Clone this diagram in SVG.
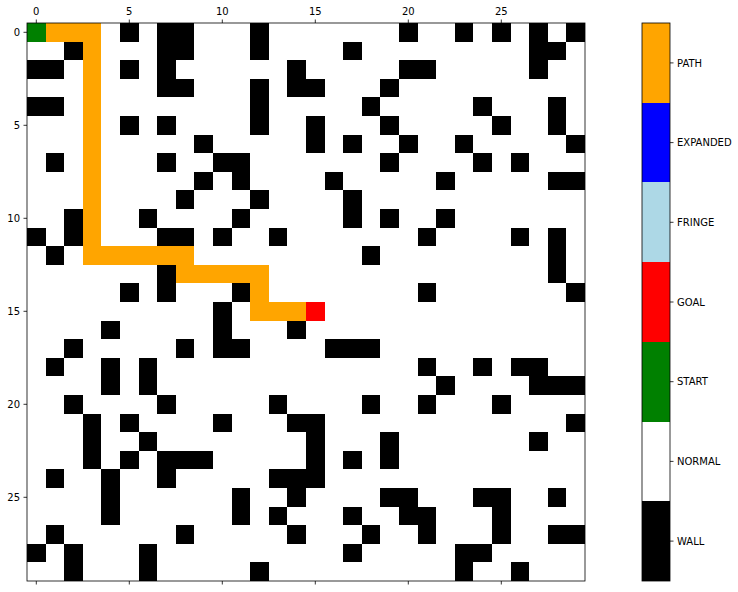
<svg xmlns="http://www.w3.org/2000/svg" width="738" height="592" viewBox="0 0 738 592">
<style>
.w{fill:#000000}
.p{fill:#FFA500}
.cells rect{shape-rendering:crispEdges}
.t{font-family:"DejaVu Sans",sans-serif;font-size:10px;fill:#000}
.tk{stroke:#000;stroke-width:0.8;fill:none}
</style>
<rect x="0" y="0" width="738" height="592" fill="#fff"/>
<g id="grid" class="cells" transform="translate(27 23) scale(18.6)">
<rect x="0" y="0" width="30" height="30" fill="#fff"/>
<!-- walls -->
<g class="w">
<rect x="5" y="0" width="1" height="1"/><rect x="7" y="0" width="2" height="1"/><rect x="12" y="0" width="1" height="1"/><rect x="20" y="0" width="1" height="1"/><rect x="23" y="0" width="1" height="1"/><rect x="25" y="0" width="1" height="1"/><rect x="27" y="0" width="1" height="1"/><rect x="29" y="0" width="1" height="1"/>
<rect x="2" y="1" width="1" height="1"/><rect x="7" y="1" width="2" height="1"/><rect x="12" y="1" width="1" height="1"/><rect x="17" y="1" width="1" height="1"/><rect x="27" y="1" width="2" height="1"/>
<rect x="0" y="2" width="2" height="1"/><rect x="5" y="2" width="1" height="1"/><rect x="7" y="2" width="1" height="1"/><rect x="14" y="2" width="1" height="1"/><rect x="20" y="2" width="2" height="1"/><rect x="27" y="2" width="1" height="1"/>
<rect x="7" y="3" width="2" height="1"/><rect x="12" y="3" width="1" height="1"/><rect x="14" y="3" width="2" height="1"/><rect x="19" y="3" width="1" height="1"/>
<rect x="0" y="4" width="2" height="1"/><rect x="12" y="4" width="1" height="1"/><rect x="18" y="4" width="1" height="1"/><rect x="24" y="4" width="1" height="1"/><rect x="28" y="4" width="1" height="1"/>
<rect x="5" y="5" width="1" height="1"/><rect x="7" y="5" width="1" height="1"/><rect x="12" y="5" width="1" height="1"/><rect x="15" y="5" width="1" height="1"/><rect x="19" y="5" width="1" height="1"/><rect x="25" y="5" width="1" height="1"/><rect x="28" y="5" width="1" height="1"/>
<rect x="9" y="6" width="1" height="1"/><rect x="15" y="6" width="1" height="1"/><rect x="17" y="6" width="1" height="1"/><rect x="20" y="6" width="1" height="1"/><rect x="23" y="6" width="1" height="1"/><rect x="29" y="6" width="1" height="1"/>
<rect x="1" y="7" width="1" height="1"/><rect x="7" y="7" width="1" height="1"/><rect x="10" y="7" width="2" height="1"/><rect x="19" y="7" width="1" height="1"/><rect x="24" y="7" width="1" height="1"/><rect x="26" y="7" width="1" height="1"/>
<rect x="9" y="8" width="1" height="1"/><rect x="11" y="8" width="1" height="1"/><rect x="16" y="8" width="1" height="1"/><rect x="22" y="8" width="1" height="1"/><rect x="28" y="8" width="2" height="1"/>
<rect x="8" y="9" width="1" height="1"/><rect x="12" y="9" width="1" height="1"/><rect x="17" y="9" width="1" height="1"/>
<rect x="2" y="10" width="1" height="1"/><rect x="6" y="10" width="1" height="1"/><rect x="11" y="10" width="1" height="1"/><rect x="17" y="10" width="1" height="1"/><rect x="19" y="10" width="1" height="1"/><rect x="22" y="10" width="1" height="1"/>
<rect x="0" y="11" width="1" height="1"/><rect x="2" y="11" width="1" height="1"/><rect x="7" y="11" width="2" height="1"/><rect x="10" y="11" width="1" height="1"/><rect x="13" y="11" width="1" height="1"/><rect x="21" y="11" width="1" height="1"/><rect x="26" y="11" width="1" height="1"/><rect x="28" y="11" width="1" height="1"/>
<rect x="1" y="12" width="1" height="1"/><rect x="18" y="12" width="1" height="1"/><rect x="28" y="12" width="1" height="1"/>
<rect x="7" y="13" width="1" height="1"/><rect x="28" y="13" width="1" height="1"/>
<rect x="5" y="14" width="1" height="1"/><rect x="7" y="14" width="1" height="1"/><rect x="11" y="14" width="1" height="1"/><rect x="21" y="14" width="1" height="1"/><rect x="29" y="14" width="1" height="1"/>
<rect x="10" y="15" width="1" height="1"/>
<rect x="4" y="16" width="1" height="1"/><rect x="10" y="16" width="1" height="1"/><rect x="14" y="16" width="1" height="1"/>
<rect x="2" y="17" width="1" height="1"/><rect x="8" y="17" width="1" height="1"/><rect x="10" y="17" width="2" height="1"/><rect x="16" y="17" width="3" height="1"/>
<rect x="1" y="18" width="1" height="1"/><rect x="4" y="18" width="1" height="1"/><rect x="6" y="18" width="1" height="1"/><rect x="21" y="18" width="1" height="1"/><rect x="24" y="18" width="1" height="1"/><rect x="26" y="18" width="2" height="1"/>
<rect x="4" y="19" width="1" height="1"/><rect x="6" y="19" width="1" height="1"/><rect x="22" y="19" width="1" height="1"/><rect x="27" y="19" width="3" height="1"/>
<rect x="2" y="20" width="1" height="1"/><rect x="7" y="20" width="1" height="1"/><rect x="13" y="20" width="1" height="1"/><rect x="18" y="20" width="1" height="1"/><rect x="21" y="20" width="1" height="1"/><rect x="25" y="20" width="1" height="1"/>
<rect x="3" y="21" width="1" height="1"/><rect x="5" y="21" width="1" height="1"/><rect x="10" y="21" width="1" height="1"/><rect x="14" y="21" width="2" height="1"/><rect x="29" y="21" width="1" height="1"/>
<rect x="3" y="22" width="1" height="1"/><rect x="6" y="22" width="1" height="1"/><rect x="15" y="22" width="1" height="1"/><rect x="19" y="22" width="1" height="1"/><rect x="27" y="22" width="1" height="1"/>
<rect x="3" y="23" width="1" height="1"/><rect x="5" y="23" width="1" height="1"/><rect x="7" y="23" width="3" height="1"/><rect x="15" y="23" width="1" height="1"/><rect x="17" y="23" width="1" height="1"/><rect x="19" y="23" width="1" height="1"/>
<rect x="1" y="24" width="1" height="1"/><rect x="4" y="24" width="1" height="1"/><rect x="7" y="24" width="1" height="1"/><rect x="13" y="24" width="3" height="1"/>
<rect x="4" y="25" width="1" height="1"/><rect x="11" y="25" width="1" height="1"/><rect x="14" y="25" width="1" height="1"/><rect x="19" y="25" width="2" height="1"/><rect x="24" y="25" width="2" height="1"/><rect x="28" y="25" width="1" height="1"/>
<rect x="4" y="26" width="1" height="1"/><rect x="11" y="26" width="1" height="1"/><rect x="13" y="26" width="1" height="1"/><rect x="17" y="26" width="1" height="1"/><rect x="20" y="26" width="2" height="1"/><rect x="25" y="26" width="1" height="1"/>
<rect x="1" y="27" width="1" height="1"/><rect x="8" y="27" width="1" height="1"/><rect x="14" y="27" width="1" height="1"/><rect x="18" y="27" width="1" height="1"/><rect x="21" y="27" width="1" height="1"/><rect x="25" y="27" width="1" height="1"/><rect x="28" y="27" width="2" height="1"/>
<rect x="0" y="28" width="1" height="1"/><rect x="2" y="28" width="1" height="1"/><rect x="6" y="28" width="1" height="1"/><rect x="17" y="28" width="1" height="1"/><rect x="23" y="28" width="2" height="1"/>
<rect x="2" y="29" width="1" height="1"/><rect x="6" y="29" width="1" height="1"/><rect x="12" y="29" width="1" height="1"/><rect x="23" y="29" width="1" height="1"/><rect x="26" y="29" width="1" height="1"/>
</g>
<!-- path -->
<g class="p">
<rect x="1" y="0" width="3" height="1"/>
<rect x="3" y="1" width="1" height="11"/>
<rect x="3" y="12" width="6" height="1"/>
<rect x="8" y="13" width="5" height="1"/>
<rect x="12" y="14" width="1" height="1"/>
<rect x="12" y="15" width="3" height="1"/>
</g>
<rect x="0" y="0" width="1" height="1" fill="#008000"/>
<rect x="15" y="15" width="1" height="1" fill="#FF0000"/>
</g>
<rect x="27" y="23" width="558" height="558" fill="none" stroke="#000" stroke-width="0.8"/>
<!-- ticks -->
<g class="tk">
<path d="M36.3 23v-3.5M129.3 23v-3.5M222.3 23v-3.5M315.3 23v-3.5M408.3 23v-3.5M501.3 23v-3.5"/>
<path d="M36.3 581v3.5M129.3 581v3.5M222.3 581v3.5M315.3 581v3.5M408.3 581v3.5M501.3 581v3.5"/>
<path d="M27 32.3h-3.5M27 125.3h-3.5M27 218.3h-3.5M27 311.3h-3.5M27 404.3h-3.5M27 497.3h-3.5"/>
</g>
<g class="t" text-anchor="middle">
<text x="36.3" y="14.5">0</text>
<text x="129.3" y="14.5">5</text>
<text x="222.3" y="14.5">10</text>
<text x="315.3" y="14.5">15</text>
<text x="408.3" y="14.5">20</text>
<text x="501.3" y="14.5">25</text>
</g>
<g class="t" text-anchor="end">
<text x="20" y="35.9">0</text>
<text x="20" y="128.9">5</text>
<text x="20" y="221.9">10</text>
<text x="20" y="314.9">15</text>
<text x="20" y="407.9">20</text>
<text x="20" y="500.9">25</text>
</g>
<!-- colorbar -->
<g id="colorbar">
<g class="cells">
<rect x="642" y="23" width="28" height="79.7" fill="#FFA500"/>
<rect x="642" y="102.7" width="28" height="79.7" fill="#0000FF"/>
<rect x="642" y="182.4" width="28" height="79.7" fill="#ADD8E6"/>
<rect x="642" y="262.1" width="28" height="79.8" fill="#FF0000"/>
<rect x="642" y="341.9" width="28" height="79.7" fill="#008000"/>
<rect x="642" y="421.6" width="28" height="79.7" fill="#FFFFFF"/>
<rect x="642" y="501.3" width="28" height="79.7" fill="#000000"/>
</g>
<rect x="642" y="23" width="28" height="558" fill="none" stroke="#000" stroke-width="0.8"/>
<path class="tk" d="M670 62.9h3.5M670 142.6h3.5M670 222.3h3.5M670 302h3.5M670 381.7h3.5M670 461.4h3.5M670 541.1h3.5"/>
<g class="t">
<text x="677" y="66.5">PATH</text>
<text x="677" y="146.2">EXPANDED</text>
<text x="677" y="225.9">FRINGE</text>
<text x="677" y="305.6">GOAL</text>
<text x="677" y="385.3">START</text>
<text x="677" y="465">NORMAL</text>
<text x="677" y="544.7">WALL</text>
</g>
</g>
</svg>
